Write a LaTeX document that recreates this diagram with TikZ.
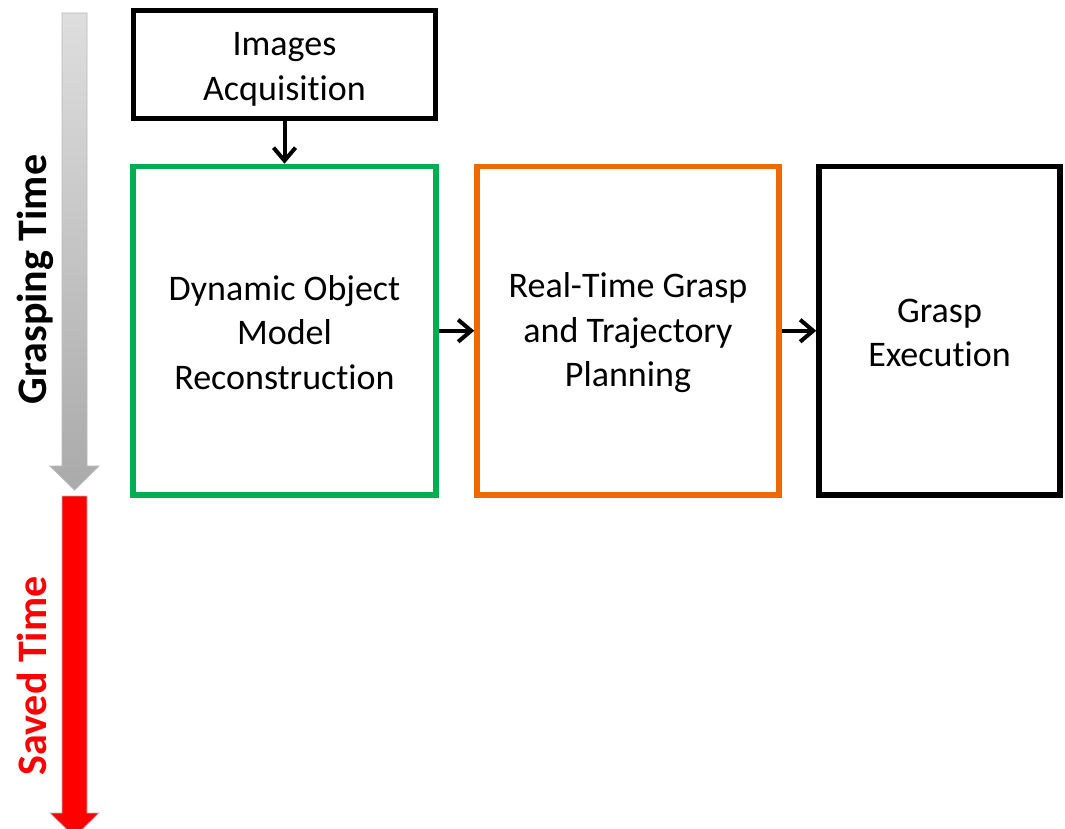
\documentclass[tikz,border=0pt]{standalone}
\usepackage{fontspec}
\setmainfont{Carlito}[RawFeature={-liga;-clig;-calt;-dlig}]
\usetikzlibrary{arrows.meta}
\definecolor{boxgreen}{RGB}{0,176,80}
\definecolor{boxorange}{RGB}{240,104,0}
\definecolor{arrowred}{RGB}{255,0,0}
\definecolor{graytop}{RGB}{222,222,222}
\definecolor{graybot}{RGB}{170,170,170}
\definecolor{grayedge}{RGB}{185,185,185}
\newcommand{\tiNoLig}{t\kern0pt i}
\begin{document}
\begin{tikzpicture}[x=1pt,y=-1pt,
  stagebox/.style={draw, line width=5.5pt, inner sep=0pt},
  boxtext/.style={align=center, inner sep=0pt, text=black,
    font=\fontsize{36}{44.5}\selectfont},
  conn/.style={line width=4pt, -{Straight Barb[length=13pt,width=22pt]}},
  sidelabel/.style={rotate=90, anchor=base, inner sep=0pt,
    font=\bfseries\fontsize{42}{50}\selectfont}]
\useasboundingbox (0,0) rectangle (1065,829);
\clip (0,0) rectangle (1065,829);
% time arrows
\path[top color=graytop, bottom color=graybot, draw=grayedge, line width=0.8pt]
  (62,13) -- (87,13) -- (87,466) -- (99,466) -- (74.5,490) -- (50,466) -- (62,466) -- cycle;
\path[fill=arrowred, draw=grayedge, line width=0.8pt]
  (62,496) -- (87,496) -- (87,813) -- (99,813) -- (74.5,837) -- (50,813) -- (62,813) -- cycle;
\node[sidelabel, text=black] (grasptime) at (46,279.5) {Grasping Time};
\node[sidelabel, text=arrowred] (savedtime) at (46.5,676) {Saved Time};
% boxes
\node[stagebox, minimum width=302pt, minimum height=108pt,
  label={[boxtext, yshift=-5pt]center:Images\\Acquisi\tiNoLig on}] (img) at (284.5,64.5) {};
\node[stagebox, draw=boxgreen, minimum width=303pt, minimum height=328.5pt,
  label={[boxtext, yshift=-1.5pt]center:Dynamic Object\\Model\\Reconstruc\tiNoLig on}] (dyn) at (284.5,330.75) {};
\node[stagebox, draw=boxorange, minimum width=302pt, minimum height=328.5pt,
  label={[boxtext, yshift=-2pt]center:Real-Time Grasp\\and Trajectory\\Planning}] (rt) at (628,330.75) {};
\node[stagebox, minimum width=241pt, minimum height=328.5pt,
  label={[boxtext, yshift=-2pt]center:Grasp\\Execu\tiNoLig on}] (exec) at (939.5,330.75) {};
% connectors
\draw[conn] (img.south) -- (dyn.north);
\draw[conn] (dyn.east) -- (rt.west);
\draw[conn] (rt.east) -- (exec.west);
\end{tikzpicture}
\end{document}
